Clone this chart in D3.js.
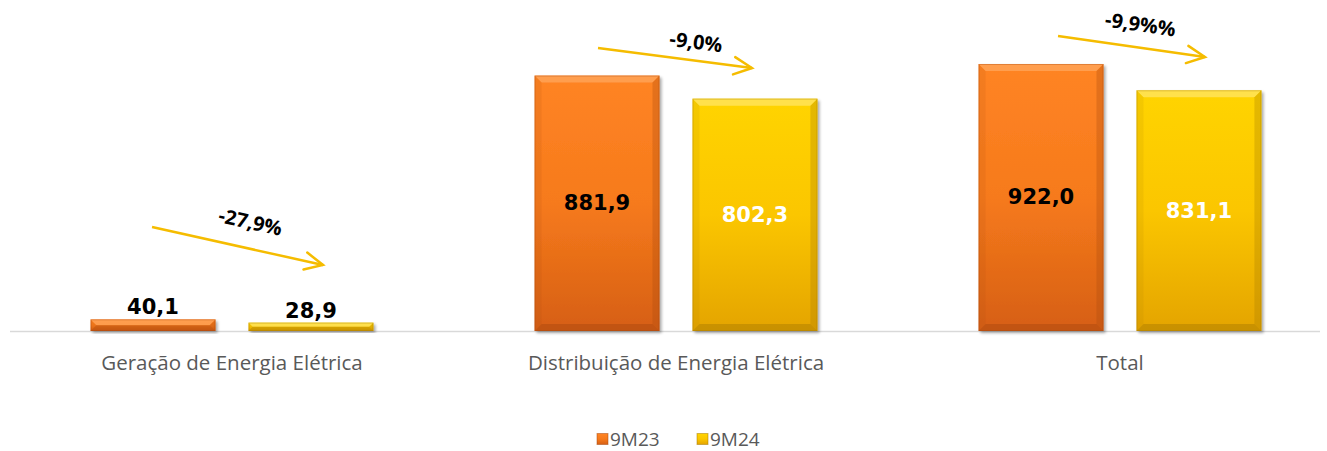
<!DOCTYPE html>
<html>
<head>
<meta charset="utf-8">
<script src="https://cdn.jsdelivr.net/npm/d3@7"></script>
<style>
  html, body { margin: 0; padding: 0; background: #fff; }
  svg { display: block; }
</style>
</head>
<body>
<div id="chart"></div>
<script>
// data
var categories = ["Geração de Energia Elétrica", "Distribuição de Energia Elétrica", "Total"];
var seriesNames = ["9M23", "9M24"];
var values9M23 = [40.1, 881.9, 922.0];
var values9M24 = [28.9, 802.3, 831.1];
var valueLabels9M23 = ["40,1", "881,9", "922,0"];
var valueLabels9M24 = ["28,9", "802,3", "831,1"];
var changeLabels = ["-27,9%", "-9,0%", "-9,9%%"];

var width = 1327, height = 451;
var baseY = 331;

var svg = d3.select('#chart').append('svg')
  .attr('width', width)
  .attr('height', height);

var defs = svg.append('defs');

var palette = {
  "9M23": { top: "#FF8424", mid: "#F67A1C", bot: "#D65F14", light: "#FFA75E", dark: "#A8480E", text: "#000" },
  "9M24": { top: "#FFD400", mid: "#FBC600", bot: "#E4A400", light: "#FFE566", dark: "#A67A00", text: "#fff" }
};

seriesNames.forEach(function(s, i) {
  var g = defs.append('linearGradient')
    .attr('id', 'grad' + i)
    .attr('x1', 0).attr('y1', 0).attr('x2', 0).attr('y2', 1);
  g.append('stop').attr('offset', '0%').attr('stop-color', palette[s].top);
  g.append('stop').attr('offset', '50%').attr('stop-color', palette[s].mid);
  g.append('stop').attr('offset', '100%').attr('stop-color', palette[s].bot);
});

var shadow = defs.append('filter').attr('id', 'shadow')
  .attr('x', '-10%').attr('y', '-10%').attr('width', '130%').attr('height', '130%');
shadow.append('feGaussianBlur').attr('in', 'SourceAlpha').attr('stdDeviation', 1.5);
shadow.append('feOffset').attr('dx', 1.5).attr('dy', 1.5).attr('result', 'blur');
shadow.append('feComponentTransfer').append('feFuncA').attr('type', 'linear').attr('slope', 0.35);
var merge = shadow.append('feMerge');
merge.append('feMergeNode');
merge.append('feMergeNode').attr('in', 'SourceGraphic');

var x = d3.scaleBand()
  .domain(categories)
  .range([10, 1342]);

var xs = d3.scaleBand()
  .domain(seriesNames)
  .range([0, x.bandwidth()])
  .paddingInner(0.209)
  .paddingOuter(0.51);

var y = d3.scaleLinear()
  .domain([0, 1000])
  .range([baseY, 41.4]);

// axis line
svg.append('line')
  .attr('x1', 10).attr('x2', 1320)
  .attr('y1', baseY + 0.5).attr('y2', baseY + 0.5)
  .attr('stroke', '#D9D9D9')
  .attr('stroke-width', 1.5);

var rows = [];
categories.forEach(function(c, i) {
  rows.push({ cat: c, s: "9M23", si: 0, v: values9M23[i], label: valueLabels9M23[i] });
  rows.push({ cat: c, s: "9M24", si: 1, v: values9M24[i], label: valueLabels9M24[i] });
});

var bars = svg.append('g').selectAll('g.bar')
  .data(rows)
  .enter().append('g')
  .attr('class', 'bar');

bars.each(function(d) {
  var g = d3.select(this);
  var x0 = x(d.cat) + xs(d.s);
  var w = xs.bandwidth();
  var y0 = y(d.v);
  var h = baseY - y0;
  var b = Math.min(7, h / 2);
  var p = palette[d.s];

  g.append('rect')
    .attr('x', x0).attr('y', y0)
    .attr('width', w).attr('height', h)
    .attr('fill', 'url(#grad' + d.si + ')')
    .attr('filter', 'url(#shadow)');

  // bevel: top, bottom, left, right
  g.append('polygon')
    .attr('points', [[x0, y0], [x0 + w, y0], [x0 + w - b, y0 + b], [x0 + b, y0 + b]].join(' '))
    .attr('fill', p.light).attr('opacity', 0.75);
  g.append('polygon')
    .attr('points', [[x0, baseY], [x0 + w, baseY], [x0 + w - b, baseY - b], [x0 + b, baseY - b]].join(' '))
    .attr('fill', p.dark).attr('opacity', 0.45);
  g.append('polygon')
    .attr('points', [[x0, y0], [x0 + b, y0 + b], [x0 + b, baseY - b], [x0, baseY]].join(' '))
    .attr('fill', p.dark).attr('opacity', 0.12);
  g.append('polygon')
    .attr('points', [[x0 + w, y0], [x0 + w - b, y0 + b], [x0 + w - b, baseY - b], [x0 + w, baseY]].join(' '))
    .attr('fill', p.dark).attr('opacity', 0.3);
  g.append('rect')
    .attr('x', x0 + 0.5).attr('y', y0 + 0.5)
    .attr('width', w - 1).attr('height', h - 1)
    .attr('fill', 'none')
    .attr('stroke', p.dark).attr('stroke-opacity', 0.35);

  var inside = h > 60;
  g.append('text')
    .attr('x', x0 + w / 2)
    .attr('y', inside ? (y0 + baseY) / 2 + 7 : y0 - 5)
    .attr('text-anchor', 'middle')
    .attr('font-family', 'DejaVu Sans, Verdana, sans-serif')
    .attr('font-weight', 'bold')
    .attr('font-size', 21)
    .attr('fill', inside ? p.text : '#000')
    .text(d.label);
});

// category labels
svg.append('g').selectAll('text')
  .data(categories)
  .enter().append('text')
  .attr('x', function(d) { return x(d) + x.bandwidth() / 2; })
  .attr('y', 370)
  .attr('text-anchor', 'middle')
  .attr('font-family', 'Open Sans, sans-serif')
  .attr('font-size', 20.5)
  .attr('fill', '#595959')
  .text(function(d) { return d; });

// change arrows (endpoints in value units, anchored to the bar centres)
var arrows = [
  { from: [-1, 359], to: [12, 228], lab: [13, -24] },
  { from: [1, 977], to: [-3, 908], lab: [21, -16] },
  { from: [17, 1019], to: [6, 946], lab: [9, -22] }
];

var arrowG = svg.append('g');
categories.forEach(function(c, i) {
  var a = arrows[i];
  var xa = x(c) + xs("9M23") + xs.bandwidth() / 2 + a.from[0];
  var ya = y(a.from[1]);
  var xb = x(c) + xs("9M24") + xs.bandwidth() / 2 + a.to[0];
  var yb = y(a.to[1]);
  var ang = Math.atan2(yb - ya, xb - xa);
  var len = 20, spread = 0.45;

  arrowG.append('line')
    .attr('x1', xa).attr('y1', ya).attr('x2', xb).attr('y2', yb)
    .attr('stroke', '#F5BC00').attr('stroke-width', 2.5);
  arrowG.append('polyline')
    .attr('points', [
      [xb - len * Math.cos(ang - spread), yb - len * Math.sin(ang - spread)],
      [xb, yb],
      [xb - len * Math.cos(ang + spread), yb - len * Math.sin(ang + spread)]
    ].join(' '))
    .attr('fill', 'none')
    .attr('stroke', '#F5BC00').attr('stroke-width', 2.5)
    .attr('stroke-linecap', 'round');

  var lx = (xa + xb) / 2 + a.lab[0];
  var ly = (ya + yb) / 2 + a.lab[1];
  arrowG.append('text')
    .attr('transform', 'translate(' + lx + ',' + ly + ') rotate(' + (ang * 180 / Math.PI) + ')')
    .attr('text-anchor', 'middle')
    .attr('dy', '0.35em')
    .attr('font-family', 'Open Sans, sans-serif')
    .attr('font-weight', 'bold')
    .attr('font-size', 20)
    .attr('fill', '#000')
    .text(changeLabels[i]);
});

// legend
var legend = svg.append('g').attr('transform', 'translate(597,439)');
var legendStep = 100;
seriesNames.forEach(function(s, i) {
  var lg = legend.append('g').attr('transform', 'translate(' + (i * legendStep) + ',0)');
  lg.append('rect')
    .attr('x', 0).attr('y', -5.5)
    .attr('width', 11).attr('height', 11)
    .attr('fill', 'url(#grad' + i + ')')
    .attr('stroke', palette[s].dark).attr('stroke-opacity', 0.5);
  lg.append('text')
    .attr('x', 13).attr('y', 0)
    .attr('dy', '0.35em')
    .attr('font-family', 'Open Sans, sans-serif')
    .attr('font-size', 19)
    .attr('fill', '#595959')
    .text(s);
});
</script>
</body>
</html>
